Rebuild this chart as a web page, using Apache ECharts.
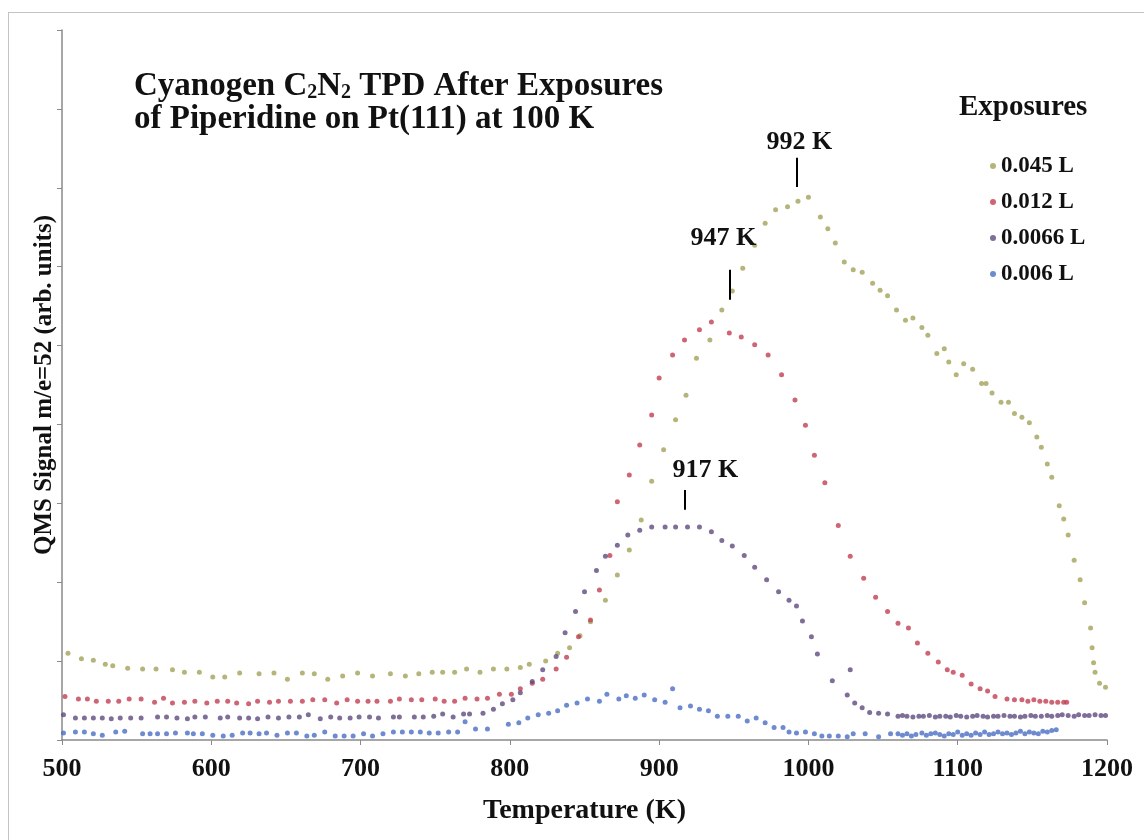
<!DOCTYPE html>
<html>
<head>
<meta charset="utf-8">
<title>Cyanogen TPD</title>
<script src="https://cdn.jsdelivr.net/npm/echarts@6/dist/echarts.min.js"></script>
<style>
  html, body { margin: 0; padding: 0; background: #fff; }
  .frame { position: absolute; left: 8px; top: 12px; width: 1200px; height: 900px; border: 1px solid #c4c4c4; }
  #chart { position: absolute; left: 0; top: 0; width: 1144px; height: 840px; }
</style>
</head>
<body>
<div class="frame"></div>
<div id="chart"></div>
<script>
// legend names
const exposures = ['0.045 L', '0.012 L', '0.0066 L', '0.006 L']

// 0.045 L  (temperature K / signal)
const t045 = [504,513,521,529,534,544,554,563,574,582,592,601,609,619,632,642,651,661,669,678,
  688,698,708,720,730,739,748,755,763,771,780,789,798,807,813,824,832,840,847,854,
  864,872,880,888,895,903,911,918,925,934,942,949,956,964,971,978,986,993,1000,1008,
  1013,1018,1024,1030,1036,1043,1048,1053,1059,1065,1070,1076,1080,1086,1091,1094,1099,1104,1110,1116,
  1119,1123,1129,1134,1138,1143,1148,1153,1156,1160,1163,1168,1171,1174,1178,1182,1185,1189,1190,1191,
  1192,1195,1199]
const v045 = [1.10,1.03,1.01,0.96,0.94,0.91,0.90,0.90,0.89,0.86,0.86,0.80,0.80,0.85,0.84,0.85,0.77,0.85,0.84,0.77,
  0.81,0.85,0.81,0.84,0.81,0.84,0.86,0.86,0.86,0.90,0.86,0.90,0.90,0.92,0.96,1.00,1.10,1.17,1.32,1.50,
  1.77,2.09,2.41,2.79,3.28,3.68,4.06,4.37,4.84,5.07,5.45,5.69,5.98,6.27,6.55,6.72,6.76,6.83,6.88,6.63,
  6.48,6.30,6.06,5.96,5.93,5.79,5.70,5.63,5.45,5.32,5.35,5.23,5.13,4.90,4.96,4.79,4.63,4.77,4.70,4.52,
  4.52,4.40,4.28,4.28,4.14,4.09,4.02,3.84,3.71,3.50,3.33,2.97,2.80,2.60,2.28,2.03,1.74,1.42,1.17,0.98,
  0.86,0.72,0.67]

// 0.012 L
const t012 = [502,511,517,523,531,538,545,553,562,568,574,582,589,597,604,611,617,625,631,639,
  645,653,661,668,676,684,691,698,705,711,720,726,734,741,750,756,763,770,778,785,793,801,807,815,
  822,831,838,846,854,860,867,872,880,887,895,900,909,917,927,935,947,955,964,973,
  982,991,998,1004,1011,1020,1028,1037,1045,1053,1060,1067,1073,1080,1087,1093,1097,1103,1109,1115,
  1120,1125,1133,1138,1143,1147,1151,1155,1159,1163,1167,1171,1173]
const v012 = [0.55,0.52,0.52,0.49,0.49,0.49,0.52,0.52,0.48,0.53,0.47,0.48,0.49,0.47,0.49,0.49,0.47,0.46,0.49,0.48,
  0.49,0.49,0.49,0.51,0.51,0.47,0.51,0.49,0.49,0.49,0.49,0.52,0.51,0.51,0.52,0.49,0.49,0.53,0.52,0.53,0.58,0.58,0.65,0.72,
  0.77,0.90,1.05,1.31,1.52,1.90,2.34,3.02,3.36,3.74,4.12,4.59,4.88,5.07,5.20,5.30,5.16,5.11,5.01,4.88,
  4.63,4.31,3.99,3.61,3.26,2.72,2.33,2.05,1.81,1.63,1.48,1.42,1.23,1.10,0.99,0.89,0.86,0.82,0.71,0.65,
  0.62,0.55,0.52,0.51,0.51,0.49,0.51,0.49,0.49,0.48,0.48,0.48,0.48]

// 0.0066 L
const t0066 = [501,509,515,521,527,533,539,546,553,564,570,577,584,589,596,606,611,619,625,631,
  638,645,652,659,665,673,680,686,693,699,706,712,722,726,736,742,749,755,762,769,773,782,789,795,802,
  807,815,822,831,837,844,850,858,864,872,879,887,895,904,911,919,927,935,942,949,
  957,964,972,980,987,992,996,1002,1006,1016,1026,1028,1031,1036,1041,1047,1053,1060,
  1063,1066,1070,1074,1077,1081,1085,1088,1092,1095,1099,1102,1106,1110,1113,1117,1120,1124,1127,1131,
  1135,1138,1142,1145,1149,1152,1156,1160,1163,1167,1170,1174,1178,1181,1185,1188,1192,1196,1199]
const v0066 = [0.32,0.28,0.28,0.28,0.28,0.27,0.28,0.28,0.28,0.29,0.29,0.28,0.27,0.29,0.29,0.28,0.29,0.28,0.28,0.27,
  0.29,0.28,0.29,0.29,0.32,0.27,0.29,0.28,0.28,0.29,0.29,0.28,0.29,0.29,0.29,0.29,0.30,0.33,0.29,0.33,0.33,0.34,0.39,0.46,0.51,
  0.60,0.74,0.89,1.06,1.36,1.63,1.88,2.15,2.33,2.47,2.60,2.66,2.70,2.70,2.70,2.70,2.70,2.64,2.53,2.46,
  2.34,2.19,2.03,1.88,1.77,1.70,1.51,1.31,1.09,0.75,0.57,0.89,0.47,0.41,0.35,0.34,0.33,0.30,
  0.31,0.30,0.29,0.30,0.30,0.31,0.29,0.30,0.30,0.29,0.31,0.30,0.29,0.30,0.31,0.30,0.29,0.30,0.30,0.31,
  0.30,0.30,0.29,0.30,0.31,0.30,0.30,0.31,0.30,0.31,0.32,0.31,0.30,0.32,0.31,0.31,0.32,0.31,0.31]

// 0.006 L
const t006 = [501,509,515,521,527,536,542,554,559,564,570,576,584,588,594,601,608,614,621,626,
  632,637,644,651,657,664,669,676,683,689,695,702,708,715,722,728,734,740,746,752,759,765,770,777,785,
  799,806,812,819,826,832,838,845,852,860,865,873,878,884,890,897,904,909,914,921,
  927,933,939,946,953,959,965,971,977,983,987,992,998,1004,1009,1014,1020,1026,1030,1038,1047,1055,1060,
  1063,1066,1069,1072,1076,1079,1082,1085,1088,1091,1094,1097,1100,1103,1106,1109,1112,1115,1118,1121,
  1124,1127,1130,1133,1136,1139,1142,1145,1148,1151,1154,1157,1160,1163,1166]
const v006 = [0.09,0.10,0.10,0.08,0.06,0.10,0.11,0.08,0.08,0.08,0.08,0.09,0.09,0.08,0.08,0.06,0.05,0.06,0.09,0.09,
  0.08,0.09,0.06,0.09,0.09,0.05,0.06,0.10,0.05,0.05,0.05,0.08,0.05,0.08,0.10,0.10,0.10,0.10,0.09,0.09,0.10,0.10,0.23,0.14,0.14,
  0.20,0.22,0.28,0.32,0.34,0.37,0.44,0.47,0.52,0.49,0.58,0.52,0.56,0.53,0.57,0.51,0.48,0.65,0.41,0.43,
  0.39,0.37,0.30,0.30,0.30,0.24,0.28,0.22,0.16,0.16,0.10,0.09,0.10,0.08,0.05,0.05,0.05,0.04,0.08,0.08,0.04,0.08,0.08,
  0.06,0.08,0.05,0.07,0.09,0.06,0.08,0.09,0.07,0.05,0.08,0.07,0.10,0.06,0.08,0.06,0.09,0.07,0.10,0.07,
  0.08,0.10,0.08,0.09,0.07,0.09,0.11,0.08,0.10,0.09,0.08,0.11,0.10,0.12,0.13]

// x axis ticks
const xTicks = [500, 600, 700, 800, 900, 1000, 1100, 1200]

// peak annotations
const peakT = [992, 947, 917]
const peakText = ['992 K', '947 K', '917 K']

const serif = '"Liberation Serif", "Times New Roman", serif'
const colors = ['#a3a35a', '#c23e52', '#5e4a7e', '#4a6ec4']

const pairs = (t, v) => t.map((x, i) => [x, v[i]])

// where the marker lines and their labels sit (value units)
const peakLine = [[7.38, 7.01], [5.96, 5.58], [3.17, 2.92]]
const peakLabelAt = [[994, 7.58], [943, 6.36], [931, 3.42]]

const chart = echarts.init(document.getElementById('chart'))

const option = {
  animation: false,
  color: colors,
  title: [
    {
      text: 'Cyanogen C{s|2}N{s|2} TPD After Exposures\nof Piperidine on Pt(111) at 100 K',
      left: 129,
      top: 65,
      textStyle: {
        fontFamily: serif, fontWeight: 'bold', fontSize: 33, lineHeight: 33, color: '#111',
        rich: {
          s: { fontFamily: serif, fontWeight: 'bold', fontSize: 20, lineHeight: 19, verticalAlign: 'bottom', color: '#111' }
        }
      }
    },
    {
      text: 'Exposures',
      left: 954,
      top: 88,
      textStyle: { fontFamily: serif, fontWeight: 'bold', fontSize: 29, color: '#111' }
    }
  ],
  legend: {
    orient: 'vertical',
    left: 985,
    top: 148,
    itemGap: 10,
    itemWidth: 6,
    itemHeight: 6,
    icon: 'circle',
    data: exposures,
    textStyle: { fontFamily: serif, fontWeight: 'bold', fontSize: 23, lineHeight: 26, color: '#111' }
  },
  grid: { left: 62, right: 37, top: 30, bottom: 100 },
  xAxis: {
    type: 'value',
    min: xTicks[0],
    max: xTicks[xTicks.length - 1],
    interval: 100,
    name: 'Temperature (K)',
    nameLocation: 'middle',
    nameGap: 57,
    nameTextStyle: { fontFamily: serif, fontWeight: 'bold', fontSize: 28, color: '#111' },
    axisLine: { lineStyle: { color: '#8a8a8a', width: 1.5 } },
    axisTick: { length: 5, lineStyle: { color: '#8a8a8a' } },
    splitLine: { show: false },
    axisLabel: {
      margin: 16, fontFamily: serif, fontWeight: 'bold', fontSize: 26, color: '#111',
      formatter: (v) => String(v)
    }
  },
  yAxis: {
    type: 'value',
    min: 0,
    max: 9,
    interval: 1,
    name: 'QMS Signal m/e=52 (arb. units)',
    nameLocation: 'middle',
    nameGap: 5,
    nameTextStyle: { fontFamily: serif, fontWeight: 'bold', fontSize: 25, color: '#111' },
    axisLine: { show: true, lineStyle: { color: '#8a8a8a', width: 1.5 } },
    axisTick: { show: true, length: 5, lineStyle: { color: '#8a8a8a' } },
    splitLine: { show: false },
    axisLabel: { show: false }
  },
  series: [
    { name: exposures[0], type: 'scatter', symbolSize: 5, data: pairs(t045, v045) },
    { name: exposures[1], type: 'scatter', symbolSize: 5, data: pairs(t012, v012) },
    { name: exposures[2], type: 'scatter', symbolSize: 5, data: pairs(t0066, v0066) },
    { name: exposures[3], type: 'scatter', symbolSize: 5, data: pairs(t006, v006) },
    // peak marks
    {
      type: 'scatter',
      data: [],
      silent: true,
      markLine: {
        silent: true,
        symbol: ['none', 'none'],
        lineStyle: { color: '#000', width: 2, type: 'solid' },
        label: { show: false },
        data: peakT.map((t, i) => [{ coord: [t, peakLine[i][0]] }, { coord: [t, peakLine[i][1]] }])
      },
      markPoint: {
        silent: true,
        symbol: 'circle',
        symbolSize: 0,
        label: {
          show: true, position: 'inside', formatter: '{b}',
          fontFamily: serif, fontWeight: 'bold', fontSize: 26, color: '#111'
        },
        data: peakText.map((s, i) => ({ name: s, coord: peakLabelAt[i] }))
      }
    }
  ]
}

chart.setOption(option)
</script>
</body>
</html>
